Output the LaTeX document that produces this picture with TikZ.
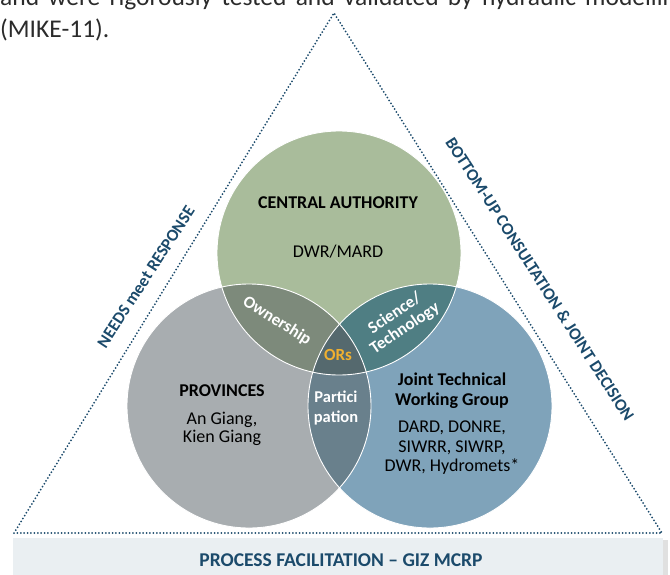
\documentclass[tikz,border=0pt]{standalone}
\usepackage{fontspec}
\setmainfont{Carlito}
\definecolor{navy}{HTML}{1B4A6B}
\definecolor{cgreen}{HTML}{A9BC9B}
\definecolor{cgray}{HTML}{A8ADB0}
\definecolor{cblue}{HTML}{7FA3BA}
\definecolor{ogreengray}{HTML}{7D8A7B}
\definecolor{ogreenblue}{HTML}{4F7E83}
\definecolor{ograyblue}{HTML}{69808C}
\definecolor{ocentre}{HTML}{55696E}
\definecolor{orsgold}{HTML}{F0B030}
\definecolor{barfill}{HTML}{EAEFF2}
\definecolor{bodytext}{HTML}{2B2B2B}
\tikzset{
  dotline/.style={navy, line width=2pt, line cap=round, dash pattern=on 0pt off 3.4pt},
  ring/.style={white, line width=0.9pt},
  title/.style={font=\fontsize{18}{20}\selectfont\bfseries, text=black, align=center, inner sep=0},
  body/.style={font=\fontsize{18}{20}\selectfont, text=black, align=center, inner sep=0},
  inner/.style={font=\fontsize{17}{19}\selectfont\bfseries, text=white, align=center, inner sep=0},
  edgelabel/.style={font=\fontsize{17}{19}\selectfont\bfseries, text=navy, inner sep=0},
  para/.style={anchor=base west, inner sep=0, font=\fontsize{25.5}{32}\selectfont, text=bodytext},
}
\begin{document}
\begin{tikzpicture}[x=1pt,y=-1pt]
\useasboundingbox (0,0) rectangle (670,574);

% justified paragraph text above the figure
\node[para] (para1) at (0,5) {\makebox[688pt][s]{and were rigorously tested and validated by hydraulic modelling}};
\node[para] (para2) at (0,37.5) {(MIKE-11).};

% triangle corners
\coordinate (apex) at (334,13);
\coordinate (bl) at (14,533);
\coordinate (br) at (662,533);

% circle centres
\coordinate (cc) at (339,253);
\coordinate (cl) at (249,406);
\coordinate (cr) at (430,406);
\def\rad{122pt}

% base discs
\fill[cgreen] (cc) circle (\rad);
\fill[cgray] (cl) circle (\rad);
\fill[cblue] (cr) circle (\rad);
% pairwise overlaps
\begin{scope}
  \clip (cc) circle (\rad);
  \fill[ogreengray] (cl) circle (\rad);
  \fill[ogreenblue] (cr) circle (\rad);
\end{scope}
\begin{scope}
  \clip (cl) circle (\rad);
  \fill[ograyblue] (cr) circle (\rad);
\end{scope}
% triple overlap
\begin{scope}
  \clip (cc) circle (\rad);
  \clip (cl) circle (\rad);
  \fill[ocentre] (cr) circle (\rad);
\end{scope}
% white rims
\draw[ring] (cc) circle (\rad);
\draw[ring] (cl) circle (\rad);
\draw[ring] (cr) circle (\rad);

% dotted triangle
\draw[dotline] (bl) -- (apex) -- (br) -- (bl);

% facilitation bar with a soft shadow on the right
\fill[black!25] (15,540) rectangle (666,576);
\fill[black!12] (15,540) rectangle (667.5,576);
\fill[barfill] (13,538) rectangle (663,576);
\node[font=\fontsize{19.5}{22}\selectfont\bfseries, text=navy] (bar) at (341,560) {PROCESS FACILITATION -- GIZ MCRP};

% labels along the triangle sides
\node[edgelabel, rotate=57] (needs) at (146,277) {NEEDS meet RESPONSE};
\node[edgelabel, rotate=-57.2] (bottomup) at (540,279) {BOTTOM-UP CONSULTATION \& JOINT DECISION};

% circle contents
\node[title] (central) at (338,203) {CENTRAL AUTHORITY};
\node[body] (dwr) at (338,252) {DWR/MARD};
\node[title] (prov) at (222,391) {PROVINCES};
\node[body, font=\fontsize{18}{17.5}\selectfont] (provs) at (222,429) {An Giang,\\Kien Giang};
\node[title] (jtwg) at (452,391) {Joint Technical\\Working Group};
\node[body, font=\fontsize{18}{19.5}\selectfont] (jtwgm) at (452,448) {DARD, DONRE,\\SIWRR, SIWRP,\\DWR, Hydromets*};

% overlap labels
\node[inner, rotate=-32] (own) at (277,321) {Ownership};
\node[inner, rotate=34, font=\fontsize{17}{18}\selectfont\bfseries] (sci) at (400,321) {Science/\\Technology};
\node[font=\fontsize{17}{19}\selectfont\bfseries, text=orsgold, inner sep=0] (ors) at (338,355) {ORs};
\node[inner, font=\fontsize{16.5}{20}\selectfont\bfseries] (part) at (336,408) {Partici\\pation};
\end{tikzpicture}
\end{document}
